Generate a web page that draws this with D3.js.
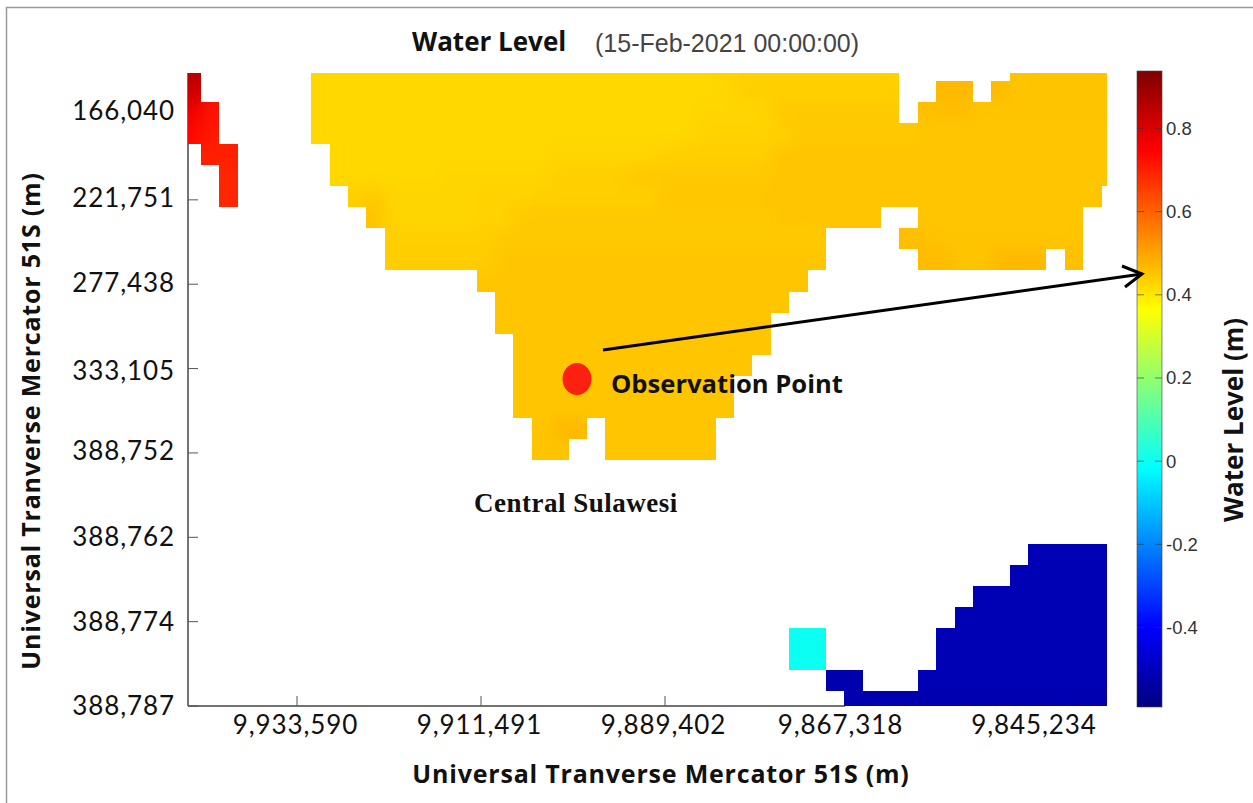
<!DOCTYPE html>
<html>
<head>
<meta charset="utf-8">
<script src="https://cdnjs.cloudflare.com/ajax/libs/d3/7.8.5/d3.min.js"></script>
<style>
  html, body { margin: 0; padding: 0; background: #fff; overflow: hidden; }
  text { fill: #111; }
  .tick-label { font-family: Lato, sans-serif; font-size: 26px; letter-spacing: 0.9px; }
  .axis-title { font-family: "Open Sans", sans-serif; font-size: 25px; font-weight: 700; letter-spacing: 0.8px; }
  .cbar-label { font-family: "Liberation Sans", sans-serif; font-size: 18.5px; fill: #333; }
</style>
</head>
<body>
<div id="chart"></div>
<script>
const xTicks = ['9,933,590', '9,911,491', '9,889,402', '9,867,318', '9,845,234']
const yTicks = ['166,040', '221,751', '277,438', '333,105', '388,752', '388,762', '388,774', '388,787']
const cbarTicks = [-0.4, -0.2, 0, 0.2, 0.4, 0.6, 0.8]
const cbarDomain = [-0.591, 0.938]

// jet colormap stops (fraction of the colorbar, colour)
const jetStops = [0, 0.125, 0.375, 0.625, 0.875, 1]
const jetColors = ['#00007f', '#0000ff', '#00ffff', '#ffff00', '#ff0000', '#7f0000']

// runs of grid cells as [row, firstCol, lastCol, water level in m]
const redRuns = [
  [-1, -1, -1, 0.86], [0, -1, -1, 0.82], [1, -1, -1, 0.77], [2, -1, -1, 0.74],
  [1, 0, 0, 0.72], [2, 0, 0, 0.71], [3, 0, 0, 0.7],
  [3, 1, 1, 0.7], [4, 1, 1, 0.69], [5, 1, 1, 0.69]
]
const mainRuns = [
  [-1, 6, 27, 0.423], [-1, 28, 37, 0.432], [-1, 44, 49, 0.453],
  [0, 6, 28, 0.423], [0, 29, 37, 0.436], [0, 40, 41, 0.47], [0, 43, 43, 0.465], [0, 44, 49, 0.453],
  [1, 6, 26, 0.423], [1, 27, 30, 0.428], [1, 31, 37, 0.445], [1, 39, 41, 0.46], [1, 42, 49, 0.453],
  [2, 6, 26, 0.423], [2, 27, 31, 0.432], [2, 32, 38, 0.445], [2, 39, 49, 0.45],
  [3, 7, 18, 0.423], [3, 19, 24, 0.428], [3, 25, 30, 0.436], [3, 31, 49, 0.45],
  [4, 7, 12, 0.423], [4, 13, 18, 0.428], [4, 19, 22, 0.436], [4, 23, 30, 0.445], [4, 31, 49, 0.45],
  [5, 8, 8, 0.436], [5, 9, 9, 0.445], [5, 10, 14, 0.428], [5, 15, 17, 0.432], [5, 18, 24, 0.436], [5, 25, 48, 0.45],
  [6, 9, 9, 0.453], [6, 10, 14, 0.428], [6, 15, 16, 0.432], [6, 17, 30, 0.445], [6, 31, 36, 0.45], [6, 39, 47, 0.45],
  [7, 10, 15, 0.436], [7, 16, 33, 0.445], [7, 38, 39, 0.46], [7, 40, 47, 0.453],
  [8, 10, 15, 0.44], [8, 16, 33, 0.45], [8, 39, 40, 0.465], [8, 41, 42, 0.453], [8, 43, 45, 0.47], [8, 47, 47, 0.46],
  [9, 15, 32, 0.45], [10, 16, 31, 0.45], [11, 16, 30, 0.45], [12, 17, 30, 0.45],
  [13, 17, 29, 0.45], [14, 17, 28, 0.45], [15, 17, 28, 0.45],
  [16, 18, 18, 0.45], [16, 19, 20, 0.47], [16, 22, 27, 0.45],
  [17, 18, 19, 0.453], [17, 22, 27, 0.45]
]
const blueRuns = [
  [22, 45, 49, -0.51], [23, 44, 49, -0.51], [24, 42, 49, -0.51], [25, 41, 49, -0.51],
  [26, 40, 49, -0.51], [27, 40, 49, -0.51], [28, 34, 35, -0.52], [28, 39, 49, -0.51], [29, 35, 49, -0.52]
]
const cyanRuns = [[26, 32, 33, 0], [27, 32, 33, 0]]

// annotation anchors, in grid units and colorbar value
const obsPoint = { col: 20.45, row: 14.16 }
const arrowStart = { col: 21.85, row: 12.78 }
const arrowValue = 0.45

const margin = { left: 188, top: 73 }
const plotW = 919
const plotH = 633
const W = 1253
const H = 803

const svg = d3.select('#chart').append('svg')
  .attr('width', W)
  .attr('height', H)

// scanned page border
svg.append('path')
  .attr('d', `M6.5,${H}V7.5H${W}`)
  .attr('fill', 'none')
  .attr('stroke', '#9a9a9a')
  .attr('stroke-width', 1.5)

// rounded so that neighbouring cells in the clip paths leave no seam
const colX = d3.scaleLinear().domain([0, 49]).rangeRound([201, 1101.6])
const rowY = d3.scaleLinear().domain([0, 30]).rangeRound([81, 712.5])
const cbarY = d3.scaleLinear().domain(cbarDomain).range([707, 71])

const jet = d3.scaleLinear()
  .domain(jetStops.map(s => cbarDomain[0] + s * (cbarDomain[1] - cbarDomain[0])))
  .range(jetColors)

const defs = svg.append('defs')

defs.append('clipPath').attr('id', 'plot-clip')
  .append('rect')
  .attr('x', margin.left).attr('y', margin.top)
  .attr('width', plotW).attr('height', plotH)

// shading interp look: blur the cell colours, then cut back to the cell outlines
const blur = defs.append('filter').attr('id', 'shade')
  .attr('filterUnits', 'userSpaceOnUse')
  .attr('x', 0).attr('y', 0).attr('width', W).attr('height', H)
  .attr('color-interpolation-filters', 'sRGB')
blur.append('feGaussianBlur').attr('stdDeviation', 8)
blur.append('feComponentTransfer').append('feFuncA')
  .attr('type', 'linear').attr('slope', 60)

// axes go first, the cells cover the ticks they overlap
const xAxisScale = d3.scalePoint().domain(xTicks).range([296.5, 1032.5])
const yAxisScale = d3.scalePoint().domain(yTicks).range([115, 705.5])
const xLabelNudge = [-1, -1, -1, -8, 1.5]
const yLabelNudge = [5, 8, 8, 12, 8, 9, 10, 9]

const xAxis = svg.append('g')
  .attr('class', 'x-axis')
  .attr('transform', `translate(0, ${margin.top + plotH})`)
  .call(d3.axisTop(xAxisScale).tickSize(10).tickFormat(''))
xAxis.select('.domain').attr('d', `M${margin.left},0H845`).attr('stroke', '#444').attr('stroke-width', 1.5)
xAxis.selectAll('.tick line').attr('stroke', '#555')

svg.append('g').selectAll('text').data(xTicks).enter().append('text')
  .attr('class', 'tick-label')
  .attr('x', (d, i) => xAxisScale(d) + xLabelNudge[i])
  .attr('y', 734)
  .attr('text-anchor', 'middle')
  .text(d => d)

const yAxis = svg.append('g')
  .attr('class', 'y-axis')
  .attr('transform', `translate(${margin.left}, 0)`)
  .call(d3.axisRight(yAxisScale).tickSize(10).tickFormat(''))
yAxis.select('.domain').attr('d', `M0,${margin.top}V${margin.top + plotH}`).attr('stroke', '#444').attr('stroke-width', 1.5)
yAxis.selectAll('.tick line').attr('stroke', '#555')

svg.append('g').selectAll('text').data(yTicks).enter().append('text')
  .attr('class', 'tick-label')
  .attr('x', 175)
  .attr('y', (d, i) => yAxisScale(d) + yLabelNudge[i])
  .attr('text-anchor', 'end')
  .text(d => d)

const plot = svg.append('g').attr('clip-path', 'url(#plot-clip)')

function drawRegion(name, runs, shaded) {
  const addCells = (sel) => sel.selectAll('rect').data(runs).enter().append('rect')
    .attr('x', d => colX(d[1]))
    .attr('y', d => rowY(d[0]))
    .attr('width', d => colX(d[2] + 1) - colX(d[1]))
    .attr('height', d => rowY(d[0] + 1) - rowY(d[0]))
  addCells(defs.append('clipPath').attr('id', `cells-${name}`))
  const region = plot.append('g').attr('clip-path', `url(#cells-${name})`)
    .append('g').attr('class', `region-${name}`)
  if (shaded) region.attr('filter', 'url(#shade)')
  addCells(region).attr('fill', d => jet(d[3]))
}

drawRegion('red', redRuns, true)
drawRegion('main', mainRuns, true)
drawRegion('blue', blueRuns, true)
drawRegion('cyan', cyanRuns, false)

// colorbar
const grad = defs.append('linearGradient').attr('id', 'jet')
  .attr('x1', 0).attr('x2', 0).attr('y1', 1).attr('y2', 0)
jetStops.forEach((s, i) => {
  grad.append('stop').attr('offset', s).attr('stop-color', jetColors[i])
})

svg.append('rect')
  .attr('x', 1137).attr('y', cbarY(cbarDomain[1]))
  .attr('width', 25).attr('height', cbarY(cbarDomain[0]) - cbarY(cbarDomain[1]))
  .attr('fill', 'url(#jet)')
  .attr('stroke', '#444').attr('stroke-opacity', 0.6)

const cbarG = svg.append('g').selectAll('g').data(cbarTicks).enter().append('g')
  .attr('transform', d => `translate(0, ${cbarY(d)})`)
cbarG.append('path')
  .attr('d', 'M1137,0h7M1155,0h7')
  .attr('stroke', '#333').attr('stroke-opacity', 0.6)
cbarG.append('text')
  .attr('class', 'cbar-label')
  .attr('x', 1166).attr('y', 6.5)
  .text(d => d)

svg.append('text')
  .attr('class', 'axis-title')
  .attr('transform', 'translate(1243, 420) rotate(-90)')
  .attr('text-anchor', 'middle')
  .style('letter-spacing', '0')
  .style('font-size', '26px')
  .text('Water Level (m)')

// titles
svg.append('text').attr('class', 'axis-title')
  .attr('x', 412).attr('y', 51)
  .style('letter-spacing', '0')
  .style('font-size', '26px')
  .text('Water Level')
svg.append('text')
  .attr('x', 595).attr('y', 52)
  .style('font-family', '"Liberation Sans", sans-serif')
  .style('font-size', '25px')
  .style('fill', '#444')
  .text('(15-Feb-2021 00:00:00)')

svg.append('text').attr('class', 'axis-title')
  .attr('x', 661).attr('y', 783)
  .attr('text-anchor', 'middle')
  .text('Universal Tranverse Mercator 51S (m)')
svg.append('text').attr('class', 'axis-title')
  .attr('transform', 'translate(40, 421) rotate(-90)')
  .attr('text-anchor', 'middle')
  .text('Universal Tranverse Mercator 51S (m)')

svg.append('text')
  .attr('x', 474).attr('y', 512)
  .style('font-family', '"Liberation Serif", serif')
  .style('font-weight', 700)
  .style('font-size', '27px')
  .style('letter-spacing', '0.5px')
  .text('Central Sulawesi')

// observation point and arrow to the colorbar
svg.append('ellipse')
  .attr('cx', colX(obsPoint.col)).attr('cy', rowY(obsPoint.row))
  .attr('rx', 14.5).attr('ry', 16)
  .attr('fill', '#fb2010')

svg.append('text').attr('class', 'axis-title')
  .attr('x', 611).attr('y', 393)
  .style('letter-spacing', '0')
  .style('font-size', '25.6px')
  .text('Observation Point')

const tip = [1142, cbarY(arrowValue)]
const start = [colX(arrowStart.col), rowY(arrowStart.row)]
svg.append('line')
  .attr('x1', start[0]).attr('y1', start[1])
  .attr('x2', tip[0]).attr('y2', tip[1])
  .attr('stroke', '#000').attr('stroke-width', 3)
svg.append('path')
  .attr('d', `M${tip[0] - 20},${tip[1] - 8}L${tip[0]},${tip[1]}L${tip[0] - 17},${tip[1] + 13}`)
  .attr('fill', 'none')
  .attr('stroke', '#000').attr('stroke-width', 3)
</script>
</body>
</html>
